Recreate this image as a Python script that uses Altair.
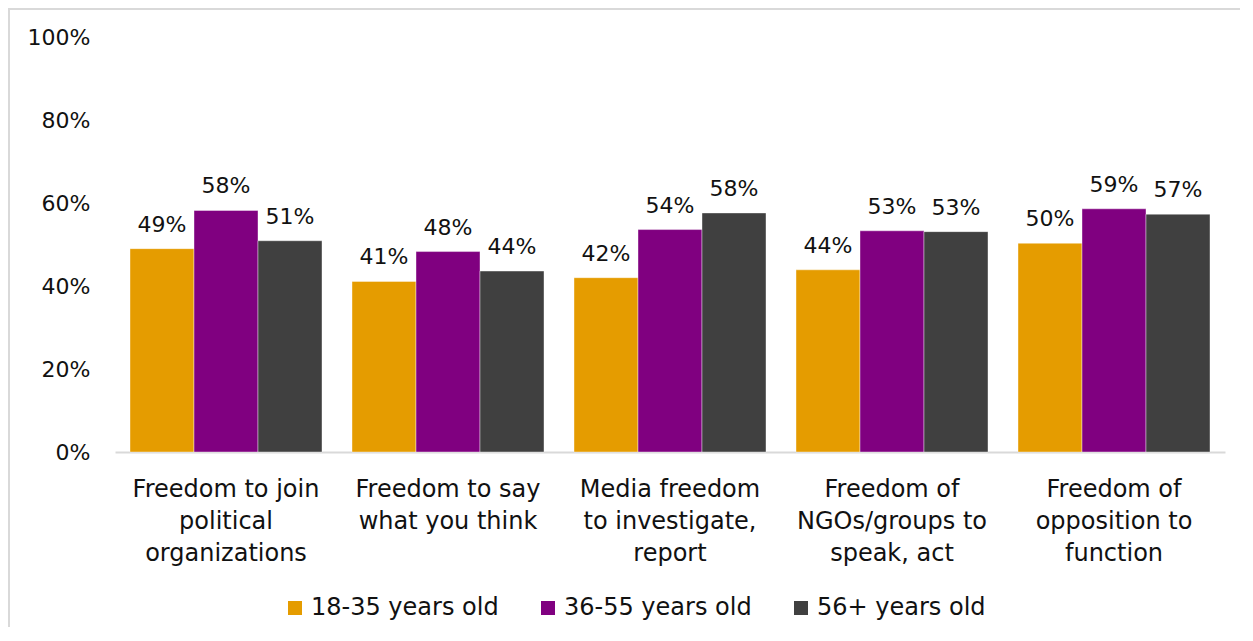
import altair as alt
import pandas as pd

categories = [
    "Freedom to join\npolitical\norganizations",
    "Freedom to say\nwhat you think",
    "Media freedom\nto investigate,\nreport",
    "Freedom of\nNGOs/groups to\nspeak, act",
    "Freedom of\nopposition to\nfunction",
]
groups = ["18-35 years old", "36-55 years old", "56+ years old"]
values_18_35 = [0.490, 0.411, 0.420, 0.439, 0.503]
values_36_55 = [0.582, 0.483, 0.536, 0.533, 0.586]
values_56p = [0.509, 0.436, 0.576, 0.531, 0.573]
colors = ["#E59C00", "#800080", "#404040"]
y_ticks = [0, 0.2, 0.4, 0.6, 0.8, 1.0]

rows = []
for g, vals in zip(groups, [values_18_35, values_36_55, values_56p]):
    for c, v in zip(categories, vals):
        rows.append({"category": c, "group": g, "value": v})
df = pd.DataFrame(rows)

FONT = "DejaVu Sans"
W, H = 1110, 415
p_in = 30 / 222

x_enc = alt.X(
    "category:N",
    sort=categories,
    scale=alt.Scale(paddingInner=p_in, paddingOuter=p_in / 2),
    axis=alt.Axis(
        title=None,
        labelAngle=0,
        labelExpr="split(datum.label, '\\n')",
        labelFontSize=24,
        labelLineHeight=32,
        labelPadding=25,
        labelLimit=0,
        labelColor="#111111",
        labelFont=FONT,
        domainColor="#D9D9D9",
        domainWidth=2,
        ticks=False,
        grid=False,
    ),
)
xoff = alt.XOffset("group:N", sort=groups, scale=alt.Scale(paddingInner=0, paddingOuter=0))
y_enc = alt.Y(
    "value:Q",
    scale=alt.Scale(domain=[0, 1], nice=False),
    axis=alt.Axis(
        title=None,
        values=y_ticks,
        format=".0%",
        labelFontSize=22,
        labelFont=FONT,
        labelColor="#111111",
        labelPadding=25,
        domain=False,
        ticks=False,
        grid=False,
    ),
)

bars = alt.Chart(df).mark_bar(stroke="white", strokeWidth=0.8, strokeOpacity=0.5).encode(
    x=x_enc,
    xOffset=xoff,
    y=y_enc,
    color=alt.Color(
        "group:N",
        sort=groups,
        scale=alt.Scale(domain=groups, range=colors),
        legend=alt.Legend(
            title=None,
            orient="none",
            direction="horizontal",
            legendX=168,
            legendY=559,
            symbolType="square",
            symbolSize=196,
            symbolStrokeWidth=0,
            labelFontSize=24,
            labelFont=FONT,
            labelLimit=0,
            labelColor="#111111",
            labelOffset=4,
            columnPadding=37,
        ),
    ),
)

labels = alt.Chart(df).mark_text(
    baseline="alphabetic", dy=-17, fontSize=22, font=FONT, color="#111111"
).encode(
    x=alt.X("category:N", sort=categories),
    xOffset=xoff,
    y="value:Q",
    text=alt.Text("value:Q", format=".0%"),
)

border_df = pd.DataFrame({"k": [0]})
left_border = alt.Chart(border_df).mark_rule(color="#D9D9D9", strokeWidth=2).encode(
    x=alt.value(-106), y=alt.value(-30), y2=alt.value(H + 200)
)
top_border = alt.Chart(border_df).mark_rule(color="#D9D9D9", strokeWidth=2).encode(
    x=alt.value(-107), x2=alt.value(W + 200), y=alt.value(-28)
)

chart = (
    alt.layer(bars, labels, left_border, top_border)
    .properties(
        width=W,
        height=H,
        autosize=alt.AutoSizeParams(type="none"),
        padding={"left": 107, "top": 29, "right": 15, "bottom": 175},
    )
    .configure_view(stroke=None)
)

chart.save("out.html", embed_options={"renderer": "svg", "actions": False})
